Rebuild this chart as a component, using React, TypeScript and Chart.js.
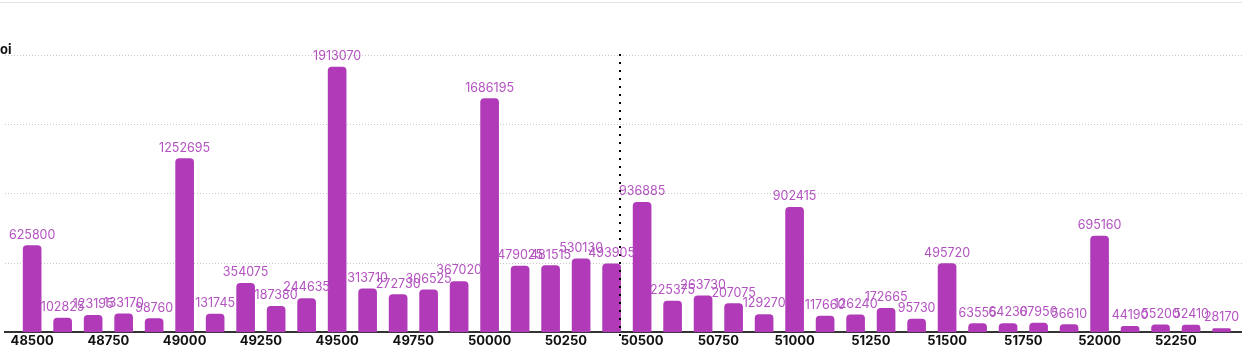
import { useEffect, useRef } from "react";
import { Chart, registerables } from "chart.js";

Chart.register(...registerables);

const strikes = [
  48500, 48600, 48700, 48800, 48900, 49000, 49100, 49200, 49300, 49400,
  49500, 49600, 49700, 49800, 49900, 50000, 50100, 50200, 50300, 50400,
  50500, 50600, 50700, 50800, 50900, 51000, 51100, 51200, 51300, 51400,
  51500, 51600, 51700, 51800, 51900, 52000, 52100, 52200, 52300, 52400,
];
const oiValues = [
  625800, 102825, 123195, 133170, 98760, 1252695, 131745, 354075, 187380, 244635,
  1913070, 313710, 272730, 306525, 367020, 1686195, 479025, 481515, 530130, 493905,
  936885, 225375, 263730, 207075, 129270, 902415, 117660, 126240, 172665, 95730,
  495720, 63555, 64230, 67950, 56610, 695160, 44190, 55200, 52410, 28170,
];
const tickValues = [
  48500, 48750, 49000, 49250, 49500, 49750, 50000, 50250, 50500, 50750,
  51000, 51250, 51500, 51750, 52000, 52250,
];
const spotPrice = 50428;
const yLabel = "oi";

const BAR = "#b03ab8";
const LABEL = "#b352c0";

const extrasPlugin = {
  id: "extras",
  afterDraw(chart: any) {
    const { ctx, chartArea, scales } = chart;
    ctx.save();
    // top thin line
    ctx.fillStyle = "#e2e2e2";
    ctx.fillRect(0, 2, chart.width, 1);
    // y label
    ctx.fillStyle = "#111";
    ctx.font = "bold 13px Inter";
    ctx.textAlign = "left";
    ctx.textBaseline = "alphabetic";
    ctx.fillText(yLabel, 0, 54);
    // spot line
    const x = Math.round(scales.x.getPixelForValue(spotPrice));
    ctx.strokeStyle = "#000";
    ctx.lineWidth = 2;
    ctx.setLineDash([2, 6]);
    ctx.beginPath();
    ctx.moveTo(x, chartArea.top - 1);
    ctx.lineTo(x, chartArea.bottom + 6);
    ctx.stroke();
    ctx.setLineDash([]);
    // value labels
    const meta = chart.getDatasetMeta(0);
    ctx.fillStyle = LABEL;
    ctx.font = "12.5px Inter";
    ctx.textAlign = "center";
    meta.data.forEach((el: any, i: number) => {
      ctx.fillText(String(oiValues[i]), el.x, el.y - 7);
    });
    ctx.restore();
  },
};

export default function App() {
  const ref = useRef<HTMLCanvasElement>(null);
  useEffect(() => {
    document.body.style.margin = "0";
    const chart = new Chart(ref.current!, {
      type: "bar",
      data: {
        datasets: [
          {
            data: strikes.map((s, i) => ({ x: s, y: oiValues[i] })),
            backgroundColor: BAR,
            barThickness: 18,
            borderRadius: { topLeft: 4, topRight: 4 },
            borderSkipped: "bottom",
          },
        ],
      },
      options: {
        animation: false,
        responsive: false,
        maintainAspectRatio: false,
        layout: { padding: { left: 5, right: 0, top: 55, bottom: 4 } },
        plugins: { legend: { display: false }, tooltip: { enabled: false } },
        scales: {
          x: {
            type: "linear",
            min: 48411,
            max: 52467,
            offset: false,
            afterBuildTicks: (axis: any) => {
              axis.ticks = tickValues.map((v) => ({ value: v }));
            },
            grid: { display: false, drawTicks: false },
            border: { display: true, color: "#333", width: 2 },
            ticks: {
              autoSkip: false,
              maxRotation: 0,
              padding: 1,
              color: "#111",
              font: { family: "Inter", size: 13, weight: "bold" },
              callback: (v: any) => String(v),
            },
          },
          y: {
            min: 0,
            max: 2000000,
            ticks: { display: false, stepSize: 500000 },
            border: { display: false, dash: [1, 2] },
            grid: { color: "#c8c8c8", drawTicks: false, lineWidth: 1 },
          },
        },
      } as any,
      plugins: [extrasPlugin],
    });
    return () => chart.destroy();
  }, []);
  return <canvas ref={ref} width={1242} height={354} style={{ display: "block" }} />;
}
